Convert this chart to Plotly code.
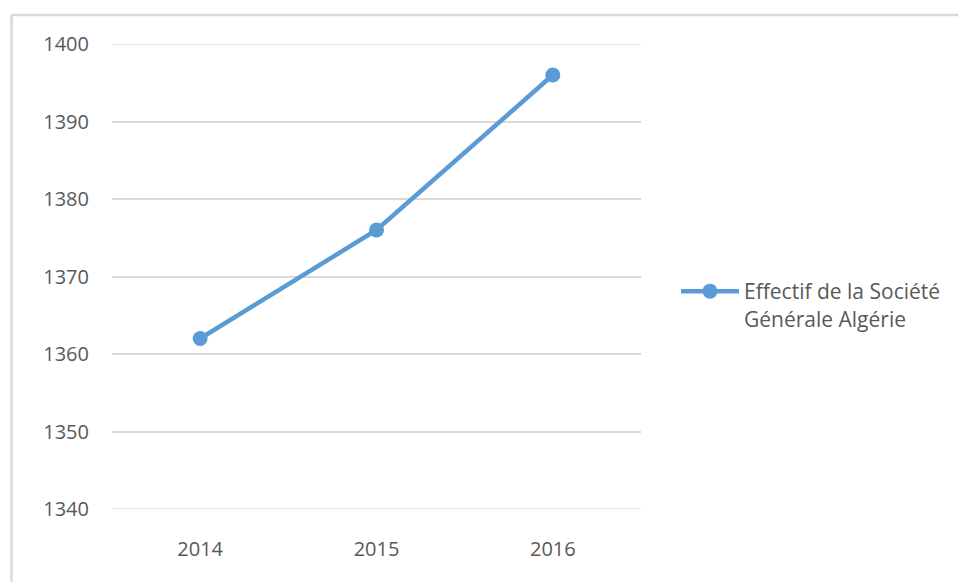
import plotly.graph_objects as go

years = ["2014", "2015", "2016"]
effectif = [1362, 1376, 1396]
series_name = "Effectif de la Société<br>Générale Algérie"
y_ticks = [1340, 1350, 1360, 1370, 1380, 1390, 1400]

W, H = 958, 582
L, R, T, B = 112, 641, 44, 509

fig = go.Figure()
fig.add_trace(go.Scatter(
    x=years, y=effectif, name=series_name, mode="lines+markers",
    line=dict(color="#5B9BD5", width=4.5),
    marker=dict(color="#5B9BD5", size=15),
))

pw, ph = R - L, B - T
def px(x): return (x - L) / pw
def py(y): return (B - y) / ph

font = dict(family="Open Sans, Noto Sans, sans-serif", size=20, color="#595959")

edge_grid = [dict(type="line", xref="paper", yref="y", x0=0, x1=1, y0=v, y1=v,
                  layer="below", line=dict(color="#D9D9D9", width=1.5))
             for v in (y_ticks[0], y_ticks[-1])]

fig.update_layout(
    width=W, height=H,
    margin=dict(l=L, r=W - R, t=T, b=H - B, pad=0),
    paper_bgcolor="white", plot_bgcolor="white",
    font=font,
    showlegend=True,
    legend=dict(x=px(676), y=py(271), xanchor="left", yanchor="top",
                valign="top",
                font=dict(family="Open Sans, Noto Sans, sans-serif", size=21, color="#595959"),
                itemwidth=58, bgcolor="rgba(0,0,0,0)"),
    xaxis=dict(type="category", range=[-0.5, 2.5], showgrid=False, zeroline=False,
               showline=False, ticks="", ticklabelstandoff=26,
               tickfont=font),
    yaxis=dict(range=[1340, 1400], tickvals=y_ticks, showgrid=True,
               gridcolor="#D9D9D9", gridwidth=1.5, zeroline=False, showline=False,
               ticks="", ticklabelstandoff=22, tickfont=font),
    shapes=[
        dict(type="line", xref="paper", yref="paper", x0=px(11), x1=px(958),
             y0=py(15), y1=py(15), line=dict(color="#D9D9D9", width=2.5)),
        dict(type="line", xref="paper", yref="paper", x0=px(11.5), x1=px(11.5),
             y0=py(15), y1=py(600), line=dict(color="#D9D9D9", width=2.5)),
    ] + edge_grid,
)

fig.write_html("out.html")
